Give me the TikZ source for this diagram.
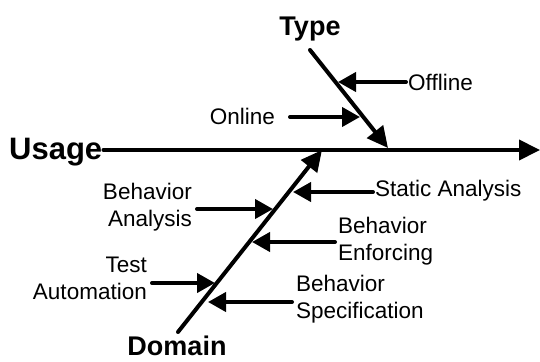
\documentclass[tikz,border=0pt]{standalone}
\usepackage{fontspec}
\setmainfont{Liberation Sans}
\usetikzlibrary{arrows.meta}
\begin{document}
\begin{tikzpicture}[x=1pt,y=-1pt,
  lbl/.style={inner sep=0pt,font=\fontsize{22.5}{27}\selectfont},
  head/.style={inner sep=0pt,font=\fontsize{27}{32}\selectfont\bfseries},
  bone/.style={line width=4pt,line cap=round,-{Triangle[length=21pt,width=20pt]}},
  rib/.style={line width=4pt,line cap=round,-{Triangle[length=18pt,width=19pt]}}]
\useasboundingbox (0,0) rectangle (540,361);

% main spine
\node[inner sep=0pt,anchor=base west,font=\fontsize{31}{36}\selectfont\bfseries] (usage) at (9,159) {Usage};
\coordinate (head) at (540,150);
\draw[bone] (usage.east |- head) ++(1,0) coordinate (s0) -- (head);

% category branches
\node[head,anchor=base] (type) at (310,36) {Type};
\node[head,anchor=base,text depth=0pt] (domain) at (177,355) {Domain};
\coordinate (t0) at (310,50);
\coordinate (t1) at (388,148);
\coordinate (d0) at (178,332);
\coordinate (d1) at (322,150);
\draw[bone] (t0) -- (t1);
\draw[bone] (d0) -- (d1);

% causes on the Type branch
\node[lbl,anchor=base west] (offline) at (408,90) {Offline};
\node[lbl,anchor=base east] (online) at (275,124) {Online};
\coordinate (off) at (338,82);
\coordinate (on) at (360,117);
\draw[rib] (offline.west |- off) ++(-2,0) -- (off);
\draw[rib] (online.east |- on) ++(15,0) -- (on);

% causes on the Domain branch
\node[lbl,anchor=base west] (static) at (375,196) {Static Analysis};
\node[lbl,align=right,anchor=north east] (banal) at (192,182.5) {Behavior\\Analysis};
\node[lbl,align=left,anchor=north west] (benf) at (338,216.5) {Behavior\\Enforcing};
\node[lbl,align=right,anchor=north east] (test) at (147,256.5) {Test\\Automation};
\node[lbl,align=left,anchor=north west] (bspec) at (296,274.5) {Behavior\\Specification};

\coordinate (c1) at (293,192);
\coordinate (c2) at (273,209);
\coordinate (c3) at (252,242);
\coordinate (c4) at (215,283);
\coordinate (c5) at (208,302);
\draw[rib] (static.west |- c1) ++(-2,0) -- (c1);
\draw[rib] (banal.east |- c2) ++(5,0) -- (c2);
\draw[rib] (benf.west |- c3) ++(-3,0) -- (c3);
\draw[rib] (test.east |- c4) ++(5,0) -- (c4);
\draw[rib] (bspec.west |- c5) ++(-4,0) -- (c5);
\end{tikzpicture}
\end{document}
